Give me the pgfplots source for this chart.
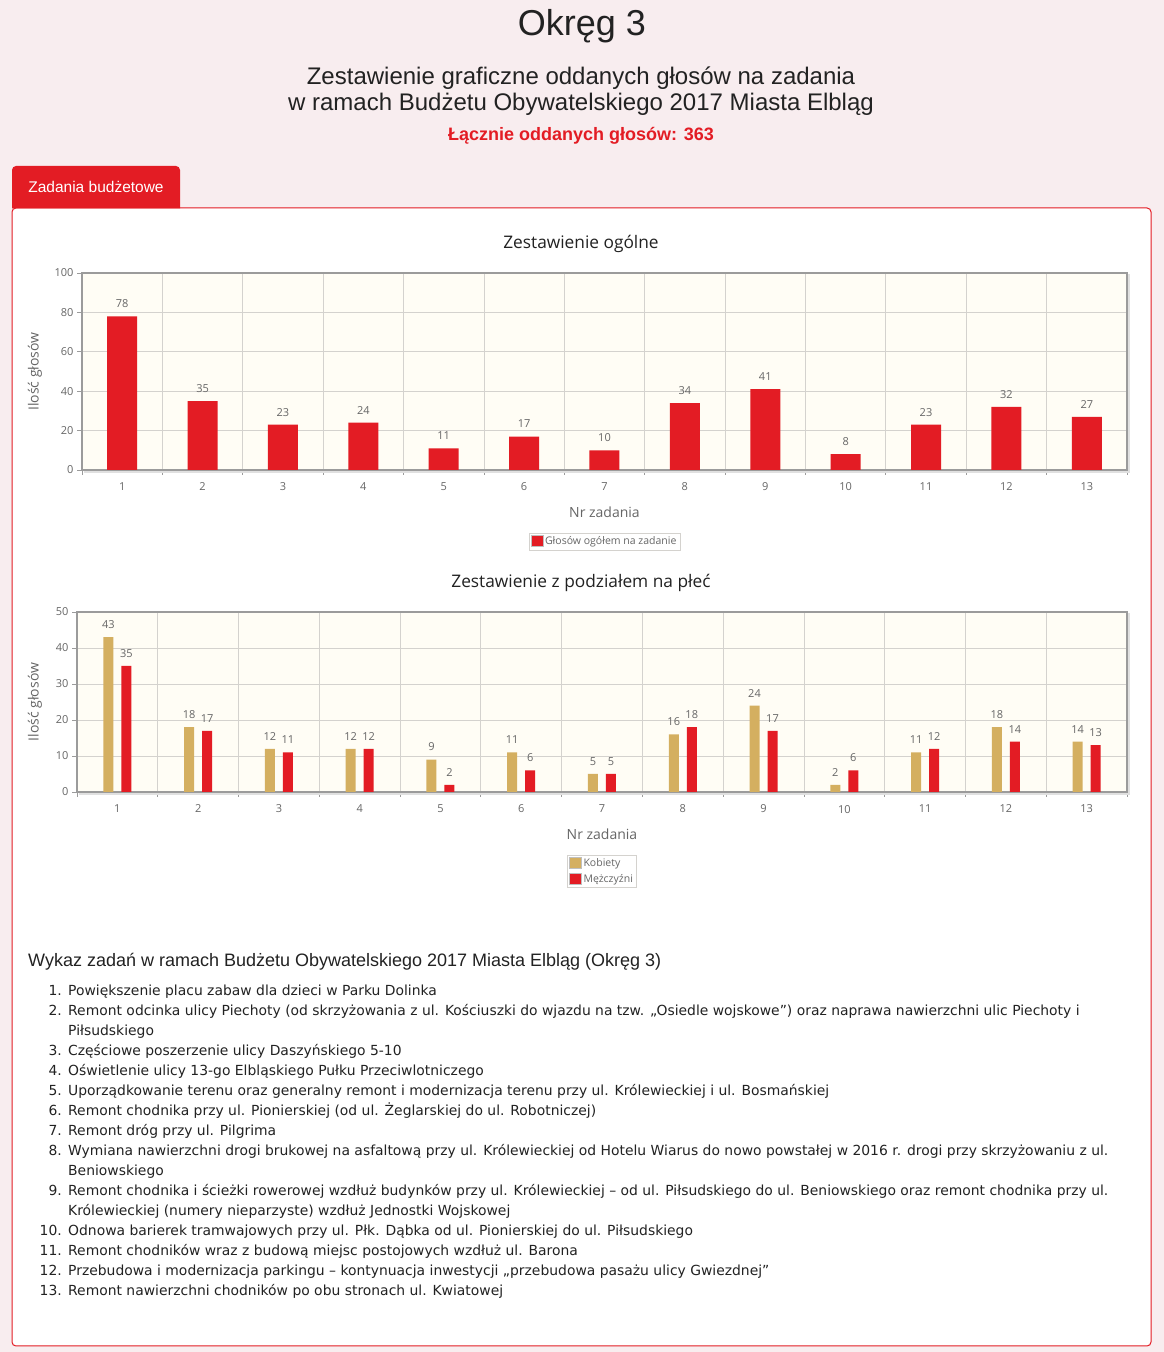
\documentclass[border=0pt]{standalone}
\usepackage{fontspec}
\setmainfont{Liberation Sans}
\newfontfamily\verd{DejaVu Sans}
\newfontfamily\chartf{Open Sans}
\usepackage{pgfplots}
\pgfplotsset{compat=1.18}

\definecolor{pagebg}{RGB}{248,237,239}
\definecolor{czerwony}{RGB}{227,28,36}
\definecolor{zloty}{RGB}{212,175,96}
\definecolor{plotbg}{RGB}{255,253,245}
\definecolor{siatka}{RGB}{212,210,206}
\definecolor{osie}{RGB}{155,155,155}
\definecolor{ciemny}{RGB}{34,34,34}
\definecolor{szary}{RGB}{102,102,102}

\newcommand\fs[1]{\fontsize{#1}{#1}\selectfont}

\pgfplotsset{
  wykres/.style={
    scale only axis,
    xmin=0.5, xmax=13.5,
    ymin=0,
    axis background/.style={fill=plotbg},
    axis line style={osie, line width=1.6pt},
    xtick={0.5,1.5,...,13.5},
    xticklabels={},
    extra x ticks={1,...,13},
    extra x tick labels={1,2,3,4,5,6,7,8,9,10,11,12,13},
    extra x tick style={grid=none, major tick length=0pt},
    xmajorgrids, ymajorgrids,
    grid style={siatka, line width=0.8pt},
    tick align=outside,
    tick pos=left,
    major tick length=5pt,
    tick style={osie, line width=0.8pt},
    ticklabel style={font=\chartf\fs{11}, text=szary},
    xticklabel style={yshift=-9.5pt},
    /pgf/number format/assume math mode=true,
    xlabel={Nr zadania},
    ylabel={Ilość głosów},
    label style={font=\chartf\fs{14}, text=szary},
    ybar,
    nodes near coords,
    every node near coord/.append style={font=\chartf\fs{11}, text=szary, yshift=5pt},
    legend style={draw=siatka, fill=white, font=\chartf\fs{10.5}, text=szary,
      inner sep=1.5pt, row sep=2pt, cells={anchor=west}},
    legend image code/.code={\draw[##1, draw=black!25, line width=0.5pt] (0pt,-5pt) rectangle (12pt,6pt);},
    after end axis/.code={
      \draw[black!12, line width=1.6pt]
        ([xshift=1.5pt,yshift=-1.8pt]rel axis cs:0,0) -- ([xshift=1.8pt,yshift=-1.8pt]rel axis cs:1,0)
        -- ([xshift=1.8pt,yshift=-1.5pt]rel axis cs:1,1);
    },
  }
}

\begin{document}
\begin{tikzpicture}[x=1pt,y=1pt]
\fill[pagebg] (0,0) rectangle (1164,1352);

% naglowek strony
\node[font=\fs{36}, text=ciemny] at (582,{1352-26}) {Okręg 3};
\node[font=\fs{24}, text=ciemny] at (581,{1352-78}) {Zestawienie graficzne oddanych głosów na zadania};
\node[font=\fs{24}, text=ciemny] at (581,{1352-104}) {w ramach Budżetu Obywatelskiego 2017 Miasta Elbląg};
\node[font=\bfseries\fs{18}, text=czerwony] at (581,{1352-136}) {Łącznie oddanych głosów: 363};

% zakladka i panel
\draw[czerwony, fill=white, line width=1pt, rounded corners=4pt] (12,{1352-1346}) rectangle (1151,{1352-208});
\fill[czerwony] (12,{1352-208.5}) [rounded corners=4pt] -- (12,{1352-166}) -- (180,{1352-166}) [sharp corners] -- (180,{1352-208.5}) -- cycle;
\node[font=\fs{15.5}, text=white] at (96,{1352-187}) {Zadania budżetowe};

% wykres 1
\node[font=\chartf\fs{17.3}, text=ciemny] at (581,{1352-244}) {Zestawienie ogólne};
\begin{axis}[wykres, at={(82pt,882pt)}, anchor=south west,
  width=1045pt, height=197pt,
  ymax=100, ytick={0,20,...,100}, bar width=30pt,
  xlabel style={at={(axis description cs:0.5,-0.213)}, anchor=center},
  ylabel style={at={(axis description cs:-0.045,0.5)}, anchor=center},
  legend style={at={(0.5,-0.32)}, anchor=north}]
\addplot[fill=czerwony, draw=none] coordinates {
  (1,78) (2,35) (3,23) (4,24) (5,11) (6,17) (7,10)
  (8,34) (9,41) (10,8) (11,23) (12,32) (13,27)};
\addlegendentry{Głosów ogółem na zadanie}
\end{axis}

% wykres 2
\node[font=\chartf\fs{17.3}, text=ciemny] at (581,{1352-583}) {Zestawienie z podziałem na płeć};
\begin{axis}[wykres, at={(77pt,560pt)}, anchor=south west,
  width=1050pt, height=180pt,
  ymax=50, ytick={0,10,...,50}, bar width=10pt,
  xlabel style={at={(axis description cs:0.5,-0.233)}, anchor=center},
  ylabel style={at={(axis description cs:-0.04,0.5)}, anchor=center},
  legend style={at={(0.5,-0.35)}, anchor=north}]
\addplot[fill=zloty, draw=none, bar shift=-9pt] coordinates {
  (1,43) (2,18) (3,12) (4,12) (5,9) (6,11) (7,5)
  (8,16) (9,24) (10,2) (11,11) (12,18) (13,14)};
\addlegendentry{Kobiety}
\addplot[fill=czerwony, draw=none, bar shift=9pt] coordinates {
  (1,35) (2,17) (3,11) (4,12) (5,2) (6,6) (7,5)
  (8,18) (9,17) (10,6) (11,12) (12,14) (13,13)};
\addlegendentry{Mężczyźni}
\end{axis}

% wykaz zadan
\node[font=\fs{18}, text=ciemny, anchor=base west, inner sep=0pt] at (28,{1352-967}) {Wykaz zadań w ramach Budżetu Obywatelskiego 2017 Miasta Elbląg (Okręg 3)};
\begin{scope}[every node/.style={font=\verd\fs{13.9}, text=ciemny, inner sep=0pt}]
\newcommand\nr[2]{\node[anchor=base east] at (62,{1352-#1}) {#2};}
\newcommand\wiersz[2]{\node[anchor=base west] at (68,{1352-#1}) {#2};}
\nr{996}{1.}\wiersz{996}{Powiększenie placu zabaw dla dzieci w Parku Dolinka}
\nr{1016}{2.}\wiersz{1016}{Remont odcinka ulicy Piechoty (od skrzyżowania z ul. Kościuszki do wjazdu na tzw. „Osiedle wojskowe”) oraz naprawa nawierzchni ulic Piechoty i}
\wiersz{1036}{Piłsudskiego}
\nr{1056}{3.}\wiersz{1056}{Częściowe poszerzenie ulicy Daszyńskiego 5-10}
\nr{1076}{4.}\wiersz{1076}{Oświetlenie ulicy 13-go Elbląskiego Pułku Przeciwlotniczego}
\nr{1096}{5.}\wiersz{1096}{Uporządkowanie terenu oraz generalny remont i modernizacja terenu przy ul. Królewieckiej i ul. Bosmańskiej}
\nr{1116}{6.}\wiersz{1116}{Remont chodnika przy ul. Pionierskiej (od ul. Żeglarskiej do ul. Robotniczej)}
\nr{1136}{7.}\wiersz{1136}{Remont dróg przy ul. Pilgrima}
\nr{1156}{8.}\wiersz{1156}{Wymiana nawierzchni drogi brukowej na asfaltową przy ul. Królewieckiej od Hotelu Wiarus do nowo powstałej w 2016 r. drogi przy skrzyżowaniu z ul.}
\wiersz{1176}{Beniowskiego}
\nr{1196}{9.}\wiersz{1196}{Remont chodnika i ścieżki rowerowej wzdłuż budynków przy ul. Królewieckiej – od ul. Piłsudskiego do ul. Beniowskiego oraz remont chodnika przy ul.}
\wiersz{1216}{Królewieckiej (numery nieparzyste) wzdłuż Jednostki Wojskowej}
\nr{1236}{10.}\wiersz{1236}{Odnowa barierek tramwajowych przy ul. Płk. Dąbka od ul. Pionierskiej do ul. Piłsudskiego}
\nr{1256}{11.}\wiersz{1256}{Remont chodników wraz z budową miejsc postojowych wzdłuż ul. Barona}
\nr{1276}{12.}\wiersz{1276}{Przebudowa i modernizacja parkingu – kontynuacja inwestycji „przebudowa pasażu ulicy Gwiezdnej”}
\nr{1296}{13.}\wiersz{1296}{Remont nawierzchni chodników po obu stronach ul. Kwiatowej}
\end{scope}
\end{tikzpicture}
\end{document}
